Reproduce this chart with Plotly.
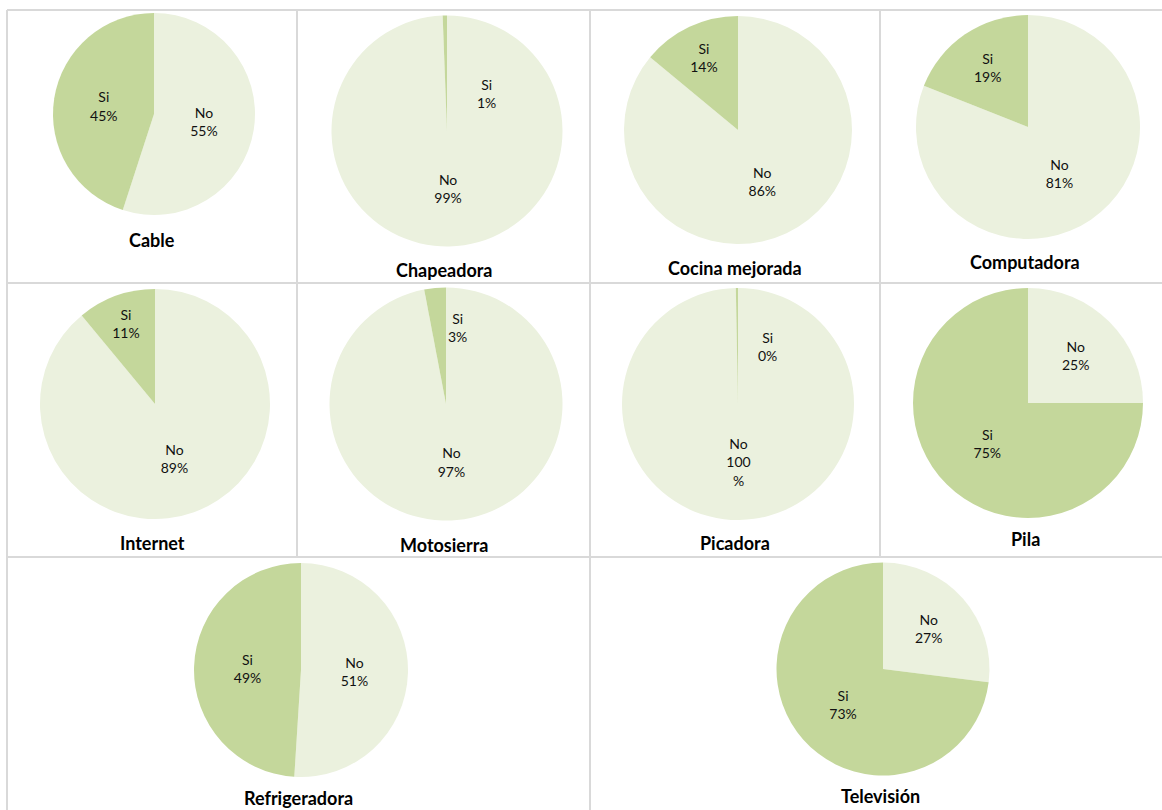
import plotly.graph_objects as go

# ---------------- data ----------------
CATEGORIES = ["Cable", "Chapeadora", "Cocina mejorada", "Computadora",
              "Internet", "Motosierra", "Picadora", "Pila",
              "Refrigeradora", "Televisión"]
SLICE_LABELS = ["No", "Si"]
NO_PCT = [55, 99.4, 86, 81, 89, 97, 99.7, 25, 51, 27]
SI_PCT = [45, 0.6, 14, 19, 11, 3, 0.3, 75, 49, 73]

# ---------------- layout / style ----------------
W, H = 1162, 810
LIGHT = "#EBF1DE"
DARK = "#C4D79B"
GRID = "#D9D9D9"
FONT = "Lato"
LABEL_SIZE = 14
SMALL_SLICE = 5  # slices below this share get a label placed beside them

# pixel centre x, centre y, diameter of each pie
PIE_BOX = [(154, 114, 202), (447, 131, 231), (738, 130, 228), (1028, 127, 224),
           (155, 404, 230), (446, 404, 233), (738, 404, 232), (1028, 403, 230),
           (301, 670, 214), (883, 669, 213)]
# pixel position of each title
TITLE_POS = [(152, 240), (444, 270), (735, 268), (1025, 262),
             (152, 543), (444, 545), (735, 543), (1025, 539),
             (298, 798), (880, 796)]
# where the labels of very thin slices sit (offset from pie centre, fraction of radius)
SMALL_LABEL_OFFSET = {1: (0.34, -0.49), 5: (0.10, -0.66), 6: (0.35, -0.50)}


def px(x):
    return x / W


def py(y):
    return 1 - y / H


def fmt(label, v):
    r = round(v)
    if r >= 100:
        return f"{label}<br>{r}<br>%"
    return f"{label}<br>{max(r, 1) if 0.5 <= v < 1.5 else r}%"


fig = go.Figure()
for i, cat in enumerate(CATEGORIES):
    cx, cy, d = PIE_BOX[i]
    rad = d / 2
    vals = [NO_PCT[i], SI_PCT[i]]
    texts = []
    for l, v in zip(SLICE_LABELS, vals):
        if v < SMALL_SLICE:
            texts.append("")
            ox, oy = SMALL_LABEL_OFFSET.get(i, (0.3, -0.5))
            fig.add_annotation(x=px(cx + ox * rad), y=py(cy + oy * rad),
                               xref="paper", yref="paper", text=fmt(l, v),
                               showarrow=False, align="center",
                               font=dict(family=FONT, size=LABEL_SIZE, color="#111111"))
        else:
            texts.append(fmt(l, v))
    fig.add_trace(go.Pie(
        labels=SLICE_LABELS,
        values=vals,
        text=texts,
        textinfo="text",
        textposition="inside",
        insidetextorientation="horizontal",
        textfont=dict(family=FONT, size=LABEL_SIZE, color="#111111"),
        marker=dict(colors=[LIGHT, DARK], line=dict(width=0)),
        sort=False,
        direction="clockwise",
        rotation=0,
        showlegend=False,
        hoverinfo="label+percent",
        domain=dict(x=[px(cx - rad), px(cx + rad)], y=[py(cy + rad), py(cy - rad)]),
        name=cat,
    ))
    tx, ty = TITLE_POS[i]
    fig.add_annotation(x=px(tx), y=py(ty), xref="paper", yref="paper",
                       text=f"<b>{cat}</b>", showarrow=False,
                       font=dict(family=FONT, size=18, color="#000000"),
                       xanchor="center", yanchor="middle")

# table grid lines
lines = [
    (7, 10, 1162, 10), (7, 283, 1162, 283), (7, 557, 1162, 557),
    (7, 10, 7, 810), (297, 10, 297, 557), (590, 10, 590, 810), (880, 10, 880, 557),
]
for x0, y0, x1, y1 in lines:
    fig.add_shape(type="line", xref="paper", yref="paper",
                  x0=px(x0), y0=py(y0), x1=px(x1), y1=py(y1),
                  line=dict(color=GRID, width=2), layer="below")

fig.update_layout(
    width=W, height=H,
    margin=dict(l=0, r=0, t=0, b=0),
    paper_bgcolor="white", plot_bgcolor="white",
    uniformtext=dict(minsize=LABEL_SIZE, mode="show"),
    font=dict(family=FONT),
)

fig.write_html("out.html", config={"displayModeBar": False},
               post_script="document.body.style.margin='0';")
